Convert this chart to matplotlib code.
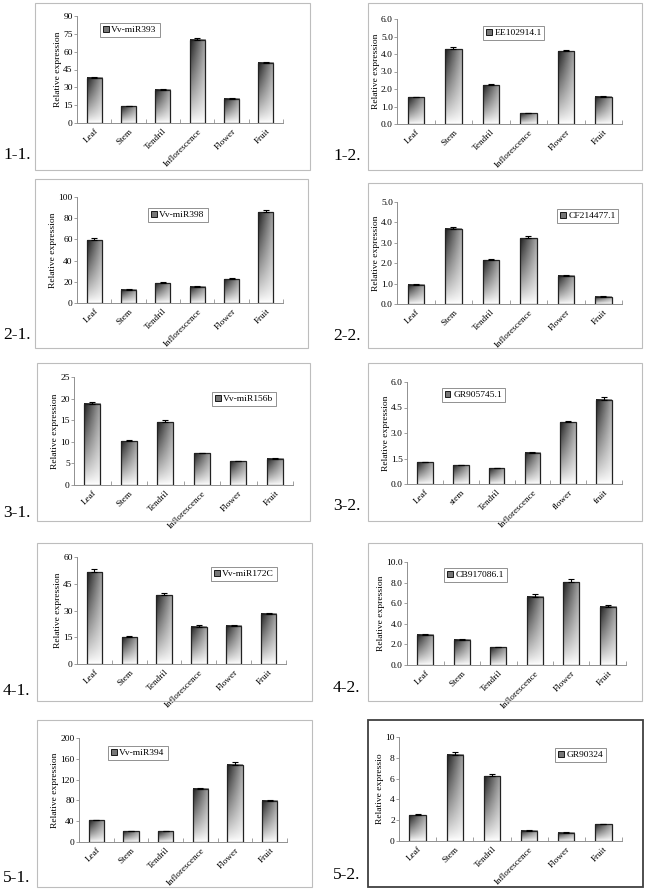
import numpy as np
import matplotlib
matplotlib.use('Agg')
import matplotlib.pyplot as plt
from matplotlib.patches import Rectangle, Patch

plt.rcParams['font.family'] = ['Liberation Serif', 'DejaVu Serif']

W, H = 647, 892

tissues = ['Leaf', 'Stem', 'Tendril', 'Inflorescence', 'Flower', 'Fruit']
tissues_lc = ['Leaf', 'stem', 'Tendril', 'Inflorescence', 'flower', 'fruit']

# values
mir393 = [38.0, 14.0, 28.0, 70.0, 20.5, 50.5]
mir393_err = [1.0, 0.5, 1.0, 1.5, 0.8, 1.2]
ee102914 = [1.52, 4.28, 2.22, 0.62, 4.15, 1.55]
ee102914_err = [0.04, 0.12, 0.06, 0.02, 0.10, 0.04]
mir398 = [59.0, 12.5, 18.5, 15.5, 22.5, 85.5]
mir398_err = [2.0, 0.5, 1.0, 0.5, 0.7, 2.5]
cf214477 = [0.95, 3.68, 2.15, 3.22, 1.38, 0.35]
cf214477_err = [0.03, 0.10, 0.06, 0.10, 0.04, 0.02]
mir156b = [18.8, 10.1, 14.5, 7.3, 5.5, 6.1]
mir156b_err = [0.5, 0.3, 0.5, 0.15, 0.1, 0.1]
gr905745 = [1.28, 1.10, 0.92, 1.85, 3.62, 4.95]
gr905745_err = [0.04, 0.04, 0.04, 0.06, 0.10, 0.15]
mir172c = [51.5, 15.0, 38.5, 21.0, 21.5, 28.2]
mir172c_err = [1.5, 0.5, 1.3, 0.7, 0.6, 0.6]
cb917086 = [2.95, 2.45, 1.72, 6.65, 8.05, 5.65]
cb917086_err = [0.06, 0.10, 0.05, 0.20, 0.30, 0.15]
mir394 = [42.0, 20.5, 20.5, 102.0, 149.0, 79.0]
mir394_err = [1.0, 1.0, 1.0, 2.0, 4.0, 2.0]
gr90324 = [2.5, 8.3, 6.25, 1.0, 0.8, 1.6]
gr90324_err = [0.07, 0.25, 0.15, 0.05, 0.03, 0.05]

# label, legend name, values, errors, cats, ymax, ystep, fmt, ylabel,
# box px, axes px, legend px (x, ytop), panel label px (x, yc)
panels = [
    ('1-1.', 'Vv-miR393', mir393, mir393_err, tissues, 90, 15, '%d', 'Relative expression',
     (35, 3, 310, 170), (77, 16, 283, 123), (100, 23), (3, 155)),
    ('1-2.', 'EE102914.1', ee102914, ee102914_err, tissues, 6, 1, '%.1f', 'Relative expression',
     (368, 3, 642, 170), (397, 19, 622, 124), (483, 26), (333, 156)),
    ('2-1.', 'Vv-miR398', mir398, mir398_err, tissues, 100, 20, '%d', 'Relative expression',
     (35, 179, 308, 348), (77, 197, 283, 303), (148, 208), (3, 335)),
    ('2-2.', 'CF214477.1', cf214477, cf214477_err, tissues, 5, 1, '%.1f', 'Relative expression',
     (368, 183, 642, 348), (397, 202, 622, 304), (557, 209), (333, 336)),
    ('3-1.', 'Vv-miR156b', mir156b, mir156b_err, tissues, 25, 5, '%d', 'Relative expression',
     (37, 363, 310, 521), (74, 377, 293, 485), (212, 392), (3, 513)),
    ('3-2.', 'GR905745.1', gr905745, gr905745_err, tissues_lc, 6, 1.5, '%.1f', 'Relative expression',
     (368, 363, 642, 521), (407, 382, 622, 484), (442, 388), (333, 506)),
    ('4-1.', 'Vv-miR172C', mir172c, mir172c_err, tissues, 60, 15, '%d', 'Relative expression',
     (37, 543, 312, 701), (77, 557, 286, 664), (211, 567), (3, 691)),
    ('4-2.', 'CB917086.1', cb917086, cb917086_err, tissues, 10, 2, '%.1f', 'Relative expression',
     (368, 543, 642, 701), (407, 562, 626, 665), (444, 568), (333, 688)),
    ('5-1.', 'Vv-miR394', mir394, mir394_err, tissues, 200, 40, '%d', 'Relative expression',
     (37, 720, 312, 887), (79, 738, 287, 842), (108, 746), (3, 878)),
    ('5-2.', 'GR90324', gr90324, gr90324_err, tissues, 10, 2, '%d', 'Relative expressio',
     (368, 720, 643, 887), (399, 737, 622, 841), (555, 748), (333, 875)),
]


def fx(x):
    return x / W


def fy(y):
    return 1 - y / H


fig = plt.figure(figsize=(W / 100, H / 100), dpi=100)

# bar fill: dark in the top-left corner, fading to white downwards and to the right
gx, gy = np.meshgrid(np.linspace(0, 1, 30), np.linspace(0, 1, 60))
darkness = gy ** 0.8 * (0.4 + 0.6 * (1 - gx))
shade = 1 - 0.88 * darkness

for lab, name, vals, errs, cats, ymax, ystep, fmt, ylab, box, axp, legp, labp in panels:
    dark = lab == '5-2.'
    fig.patches.append(Rectangle((fx(box[0]), fy(box[3])), fx(box[2] - box[0]), (box[3] - box[1]) / H,
                                 transform=fig.transFigure, fill=False,
                                 ec='#404040' if dark else '#bdbdbd', lw=1.3 if dark else 0.8))
    ax = fig.add_axes([fx(axp[0]), fy(axp[3]), fx(axp[2] - axp[0]), (axp[3] - axp[1]) / H])
    x = np.arange(len(cats))
    bars = ax.bar(x, vals, width=0.44, facecolor='none', edgecolor='#222222', lw=0.9, zorder=3)
    for b in bars:
        x0, w, h = b.get_x(), b.get_width(), b.get_height()
        ax.imshow(shade, cmap='gray', vmin=0, vmax=1, origin='lower', aspect='auto',
                  extent=[x0, x0 + w, 0, h], interpolation='bilinear', zorder=2)
    ax.errorbar(x, vals, yerr=[np.zeros(len(errs)), errs], fmt='none', ecolor='black',
                elinewidth=0.8, capsize=2, capthick=0.8, zorder=4)
    ax.set_xlim(-0.5, len(cats) - 0.5)
    ax.set_ylim(0, ymax)
    yt = np.arange(0, ymax + ystep / 2, ystep)
    ax.set_yticks(yt)
    ax.set_yticklabels([fmt % v for v in yt], fontsize=6.8)
    ax.set_xticks(np.arange(-0.5, len(cats)))
    ax.set_xticklabels([])
    ax.set_xticks(x, minor=True)
    ax.set_xticklabels(cats, minor=True, rotation=45, ha='right', rotation_mode='anchor', fontsize=6.6)
    ax.tick_params(axis='x', which='minor', length=0, pad=3)
    ax.tick_params(axis='x', which='major', direction='in', length=3, width=0.6, color='#909090')
    ax.tick_params(axis='y', which='major', direction='out', length=2, width=0.6, color='#909090', pad=1)
    for s in ['top', 'right']:
        ax.spines[s].set_visible(False)
    for s in ['left', 'bottom']:
        ax.spines[s].set_color('#909090')
        ax.spines[s].set_linewidth(0.7)
    ax.set_ylabel(ylab, fontsize=6.8, labelpad=1)
    ax.patch.set_alpha(0)

    leg = ax.legend(handles=[Patch(facecolor='#777777', edgecolor='black', lw=0.6)], labels=[name],
                    loc='upper left', bbox_to_anchor=(fx(legp[0]), fy(legp[1])),
                    bbox_transform=fig.transFigure, borderaxespad=0, fontsize=6.8,
                    handlelength=0.6, handleheight=0.6, handletextpad=0.3, borderpad=0.3,
                    fancybox=False, framealpha=1)
    leg.get_frame().set_edgecolor('#808080')
    leg.get_frame().set_linewidth(0.6)

    fig.text(fx(labp[0]), fy(labp[1]), lab, fontsize=12.5, ha='left', va='center')

plt.savefig('out.png', dpi=100, facecolor='white')
